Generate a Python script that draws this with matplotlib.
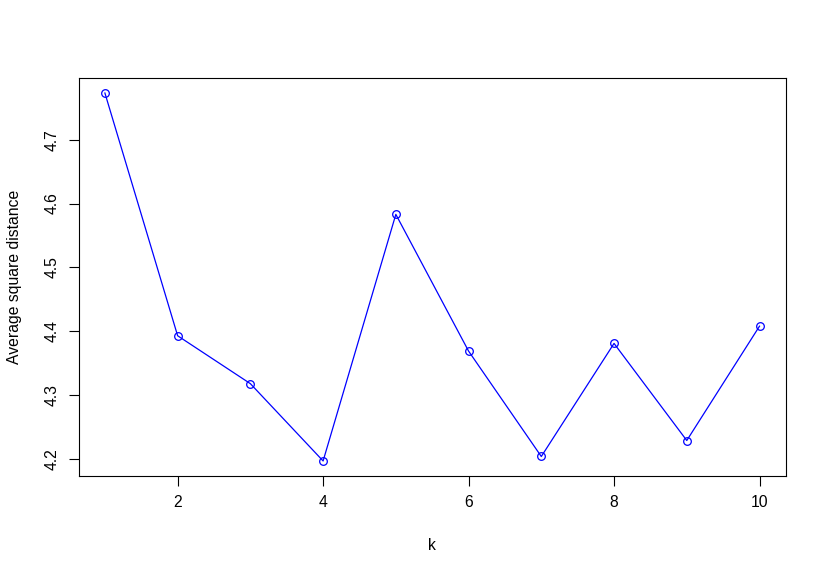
import matplotlib
matplotlib.use("Agg")
import matplotlib.pyplot as plt

k = [1, 2, 3, 4, 5, 6, 7, 8, 9, 10]
avg_sq_dist = [4.773, 4.393, 4.318, 4.197, 4.583, 4.369, 4.204, 4.381, 4.229, 4.408]
xticks = [2, 4, 6, 8, 10]
yticks = [4.2, 4.3, 4.4, 4.5, 4.6, 4.7]

plt.rcParams["font.family"] = ["Liberation Sans", "DejaVu Sans"]

fig = plt.figure(figsize=(8.26, 5.74), dpi=100)
ax = fig.add_axes([0.0953, 0.1713, 0.8559, 0.6923])

ax.plot(k, avg_sq_dist, "-", color="blue", lw=0.9)
ax.plot(k, avg_sq_dist, "o", color="blue", mfc="none", ms=5.5, mew=0.9)

# R-style 4% padding
xr = max(k) - min(k)
yr = max(avg_sq_dist) - min(avg_sq_dist)
ax.set_xlim(min(k) - 0.04 * xr, max(k) + 0.04 * xr)
ax.set_ylim(min(avg_sq_dist) - 0.04 * yr, max(avg_sq_dist) + 0.04 * yr)

ax.set_xticks(xticks)
ax.set_xticklabels([str(t) for t in xticks])
ax.set_yticks(yticks)
ax.set_yticklabels([f"{t:.1f}" for t in yticks], rotation=90, va="center")
ax.tick_params(direction="out", length=7, width=0.8, labelsize=11.3, pad=7)

for s in ax.spines.values():
    s.set_linewidth(0.8)

ax.set_xlabel("k", fontsize=11.3, labelpad=20)
ax.set_ylabel("Average square distance", fontsize=11.3, labelpad=16)

fig.savefig("out.png", dpi=100)
